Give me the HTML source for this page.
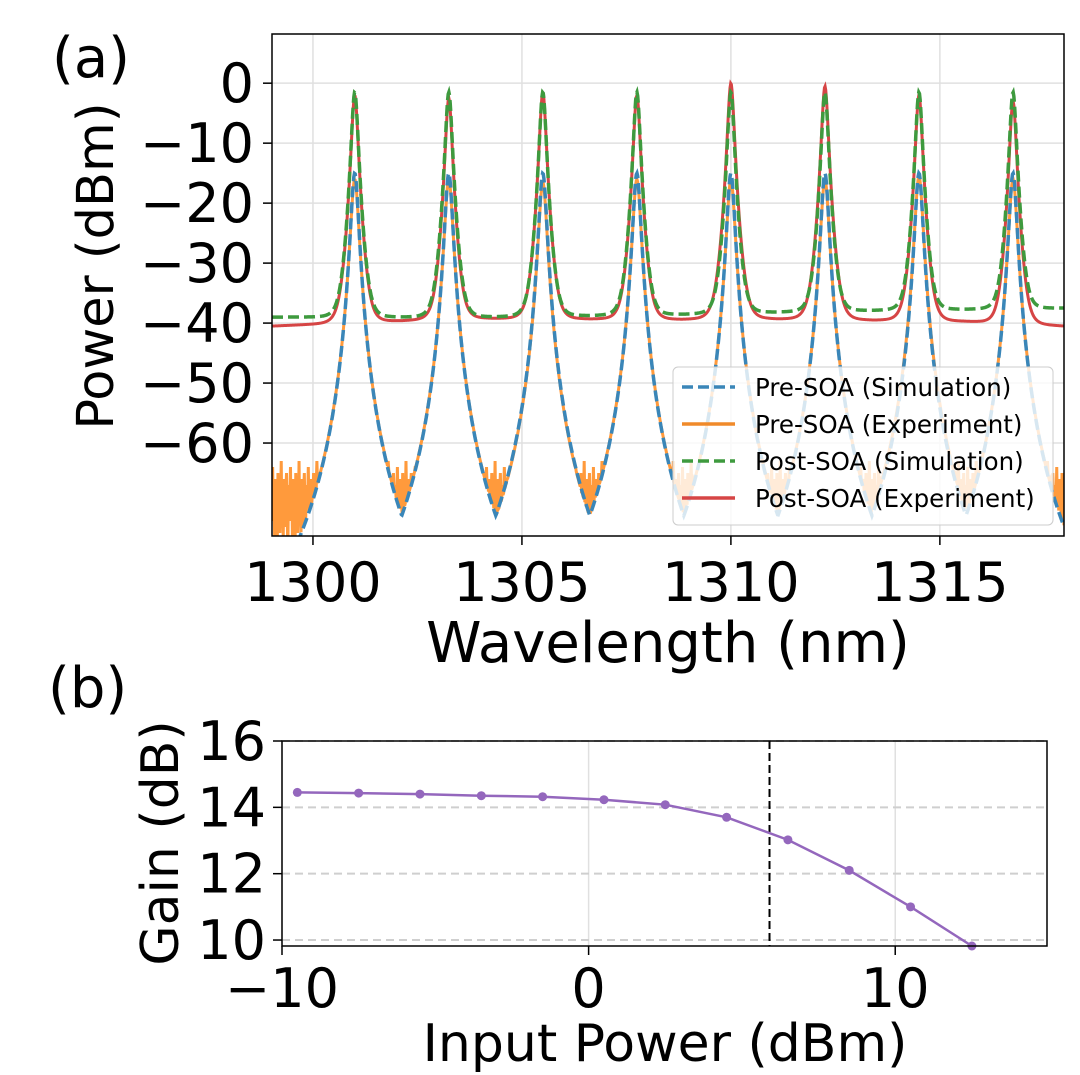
<!DOCTYPE html>
<html><head><meta charset="utf-8"><style>
html,body{margin:0;padding:0;background:#fff;}
svg{display:block;font-family:"DejaVu Sans","Liberation Sans",sans-serif;}
</style></head><body>
<svg id="fig" width="1080" height="1075" viewBox="0 0 1080 1075" xmlns="http://www.w3.org/2000/svg">
<rect width="1080" height="1075" fill="#fff"/>
<defs><clipPath id="clipA"><rect x="272" y="34" width="792" height="502"/></clipPath></defs>
<text x="52" y="77" font-size="56">(a)</text>
<text x="48" y="707" font-size="56">(b)</text>
<g id="topPanel"></g>
<g id="botPanel"></g>
</svg>
<script>
// ---- Panel (a) data ----
const peakWavelengths = [1301.0, 1303.25, 1305.5, 1307.75, 1310.0, 1312.25, 1314.5, 1316.75];
const preSimPeaks = [-15, -15, -15, -15, -15, -15, -15, -15];
const preExpPeaks = [-16, -16, -16.5, -16, -16, -16, -15.5, -16];
const postSimPeaks = [-1.5, -1.5, -1.5, -1.5, -1.5, -1.5, -1.5, -1.5];
const postExpPeaks = [-2, -2.5, -1.5, -2, 0, -0.5, -2, -3];
const postSimFloor = [-39, -39, -39, -38.8, -38.6, -38.2, -37.9, -37.7, -37.5];
const postExpFloor = [-40.5, -39.8, -39.2, -39.3, -39.4, -39.3, -39.5, -39.7, -40.5];
const noiseFloor = [-70,-64,-73,-67,-76,-66,-71,-69,-77,-65,-72,-68,-75,-70,-63,-73,-69,-76,-66,-71,-74,-68,-65,-72,-78,-67,-70];
const xTicksA = [1300, 1305, 1310, 1315];
const yTicksA = [0, -10, -20, -30, -40, -50, -60];
// ---- Panel (b) data ----
const inputPower = [-9.5,-7.5,-5.5,-3.5,-1.5,0.5,2.5,4.5,6.5,8.5,10.5,12.5];
const gainVals = [14.45,14.43,14.40,14.35,14.32,14.23,14.08,13.70,13.02,12.10,11.00,9.82];
const xTicksB = [-10, 0, 10];
const yTicksB = [16, 14, 12, 10];
const saturationLine = 5.9;

const NS = "http://www.w3.org/2000/svg";
function mk(parent, tag, attrs){const e=document.createElementNS(NS,tag);for(const k in attrs)e.setAttribute(k,attrs[k]);parent.appendChild(e);return e;}
const minus = v => String(v).replace('-', '\u2212');
const TF = 54;

// Panel a axes
const A = {l:272, r:1064, t:34, b:536, x0:1299.02, x1:1317.97, y0:-75.5, y1:8.2};
const xa = v => A.l + (v - A.x0) / (A.x1 - A.x0) * (A.r - A.l);
const ya = v => A.b - (v - A.y0) / (A.y1 - A.y0) * (A.b - A.t);
const gA = document.getElementById('topPanel');
xTicksA.forEach(v=>{
  const g=mk(gA,'line',{x1:xa(v),x2:xa(v),y1:A.t,y2:A.b,stroke:'#e0e0e0','stroke-width':1.5});
  
  
  mk(gA,'line',{x1:xa(v),x2:xa(v),y1:A.b,y2:A.b+9,stroke:'#000','stroke-width':1.5});
  const l=mk(gA,'text',{x:xa(v),y:601,'font-size':TF,'text-anchor':'middle'});l.textContent=v;
  
  
});
yTicksA.forEach(v=>{
  const g=mk(gA,'line',{x1:A.l,x2:A.r,y1:ya(v),y2:ya(v),stroke:'#e0e0e0','stroke-width':1.5});
  
  
  mk(gA,'line',{x1:A.l-9,x2:A.l,y1:ya(v),y2:ya(v),stroke:'#000','stroke-width':1.5});
  const l=mk(gA,'text',{x:A.l-18,y:ya(v)+19,'font-size':TF,'text-anchor':'end'});l.textContent=minus(v);
  
  
});
function peakShape(lam, peaks, w){
  let best=-200;
  peakWavelengths.forEach((p,i)=>{const d=(lam-p)/w;const v=peaks[i]-26*Math.log10(1+d*d);if(v>best)best=v;});
  return best;
}
function floorAt(lam, arr){const f=(lam-A.x0)/(A.x1-A.x0)*(arr.length-1);const i=Math.max(0,Math.min(arr.length-2,Math.floor(f)));const t=f-i;return arr[i]*(1-t)+arr[i+1]*t;}
function addDb(a,b){return 10*Math.log10(Math.pow(10,a/10)+Math.pow(10,b/10));}
const N=1200;
function series(fn){let d='';for(let i=0;i<=N;i++){const lam=A.x0+(A.x1-A.x0)*i/N;let y=fn(lam,i);y=Math.max(A.y0-3,y);d+=(i?'L':'M')+xa(lam).toFixed(2)+','+ya(y).toFixed(2);}return d;}
const preExp = series((lam,i)=>Math.max(peakShape(lam,preExpPeaks,0.095), noiseFloor[i%noiseFloor.length]));
const preSim = series(lam=>peakShape(lam,preSimPeaks,0.09));
const postExp = series(lam=>addDb(floorAt(lam,postExpFloor), peakShape(lam,postExpPeaks,0.08)));
const postSim = series(lam=>addDb(floorAt(lam,postSimFloor), peakShape(lam,postSimPeaks,0.08)));
const cg=mk(gA,'g',{'clip-path':'url(#clipA)'});
let e;
e=mk(cg,'path',{d:preExp,fill:'none',stroke:'#ff9a3c','stroke-width':3});


e=mk(cg,'path',{d:preSim,fill:'none',stroke:'#3a86b8','stroke-width':3.5,'stroke-dasharray':'11 5'});


e=mk(cg,'path',{d:postExp,fill:'none',stroke:'#d64545','stroke-width':3});


e=mk(cg,'path',{d:postSim,fill:'none',stroke:'#3e9a3e','stroke-width':3.5,'stroke-dasharray':'11 5'});


mk(gA,'rect',{x:A.l,y:A.t,width:A.r-A.l,height:A.b-A.t,fill:'none',stroke:'#000','stroke-width':1.5});
// legend
const lg=mk(gA,'g',{});


mk(lg,'rect',{x:673,y:367,width:380,height:158,rx:5,fill:'#fff','fill-opacity':0.8,stroke:'#ccc','stroke-width':1});
const legItems=[['Pre-SOA (Simulation)','#3a86b8',true],['Pre-SOA (Experiment)','#f08a2a',false],['Post-SOA (Simulation)','#3e9a3e',true],['Post-SOA (Experiment)','#d64545',false]];
legItems.forEach((it,i)=>{const y=387+i*37;
  const g=mk(lg,'g',{});
  
  
  mk(g,'line',{x1:682,x2:735,y1:y,y2:y,stroke:it[1],'stroke-width':3.5,'stroke-dasharray':it[2]?'11 5':'none'});
  const t=mk(g,'text',{x:755,y:y+9,'font-size':24.5});t.textContent=it[0];});
let t=mk(gA,'text',{x:668,y:662,'font-size':56,'text-anchor':'middle'});t.textContent='Wavelength (nm)';


t=mk(gA,'text',{x:0,y:0,'font-size':51,'text-anchor':'middle',transform:'translate(113,266) rotate(-90)'});t.textContent='Power (dBm)';



// Panel b
const B={l:282,r:1047,t:741,b:946,x0:-10,x1:14.95,y0:9.82,y1:16};
const xb=v=>B.l+(v-B.x0)/(B.x1-B.x0)*(B.r-B.l);
const yb=v=>B.b-(v-B.y0)/(B.y1-B.y0)*(B.b-B.t);
const gB=document.getElementById('botPanel');
xTicksB.forEach(v=>{
  const g=mk(gB,'line',{x1:xb(v),x2:xb(v),y1:B.t,y2:B.b,stroke:'#e0e0e0','stroke-width':1.5});
  
  
  mk(gB,'line',{x1:xb(v),x2:xb(v),y1:B.b,y2:B.b+9,stroke:'#000','stroke-width':1.5});
  const l=mk(gB,'text',{x:xb(v),y:1007,'font-size':TF,'text-anchor':'middle'});l.textContent=minus(v);
  
  
});
yTicksB.forEach(v=>{
  const g=mk(gB,'line',{x1:B.l,x2:B.r,y1:yb(v),y2:yb(v),stroke:'#cfcfcf','stroke-width':2,'stroke-dasharray':'8 5'});
  
  
  mk(gB,'line',{x1:B.l-9,x2:B.l,y1:yb(v),y2:yb(v),stroke:'#000','stroke-width':1.5});
  const l=mk(gB,'text',{x:B.l-16,y:yb(v)+19,'font-size':TF,'text-anchor':'end'});l.textContent=v;
  
  
});
e=mk(gB,'line',{x1:xb(saturationLine),x2:xb(saturationLine),y1:B.t,y2:B.b,stroke:'#000','stroke-width':2,'stroke-dasharray':'8 4'});


e=mk(gB,'path',{d:inputPower.map((x,i)=>(i?'L':'M')+xb(x)+','+yb(gainVals[i])).join(''),fill:'none',stroke:'#9467bd','stroke-width':2.5});


inputPower.forEach((x,i)=>{const c=mk(gB,'circle',{cx:xb(x),cy:yb(gainVals[i]),r:4.5,fill:'#9467bd'});
  
  });
mk(gB,'rect',{x:B.l,y:B.t,width:B.r-B.l,height:B.b-B.t,fill:'none',stroke:'#000','stroke-width':1.5});
t=mk(gB,'text',{x:665,y:1061,'font-size':52,'text-anchor':'middle'});t.textContent='Input Power (dBm)';


t=mk(gB,'text',{x:0,y:0,'font-size':52,'text-anchor':'middle',transform:'translate(178,843) rotate(-90)'});t.textContent='Gain (dB)';


</script>
</body></html>
